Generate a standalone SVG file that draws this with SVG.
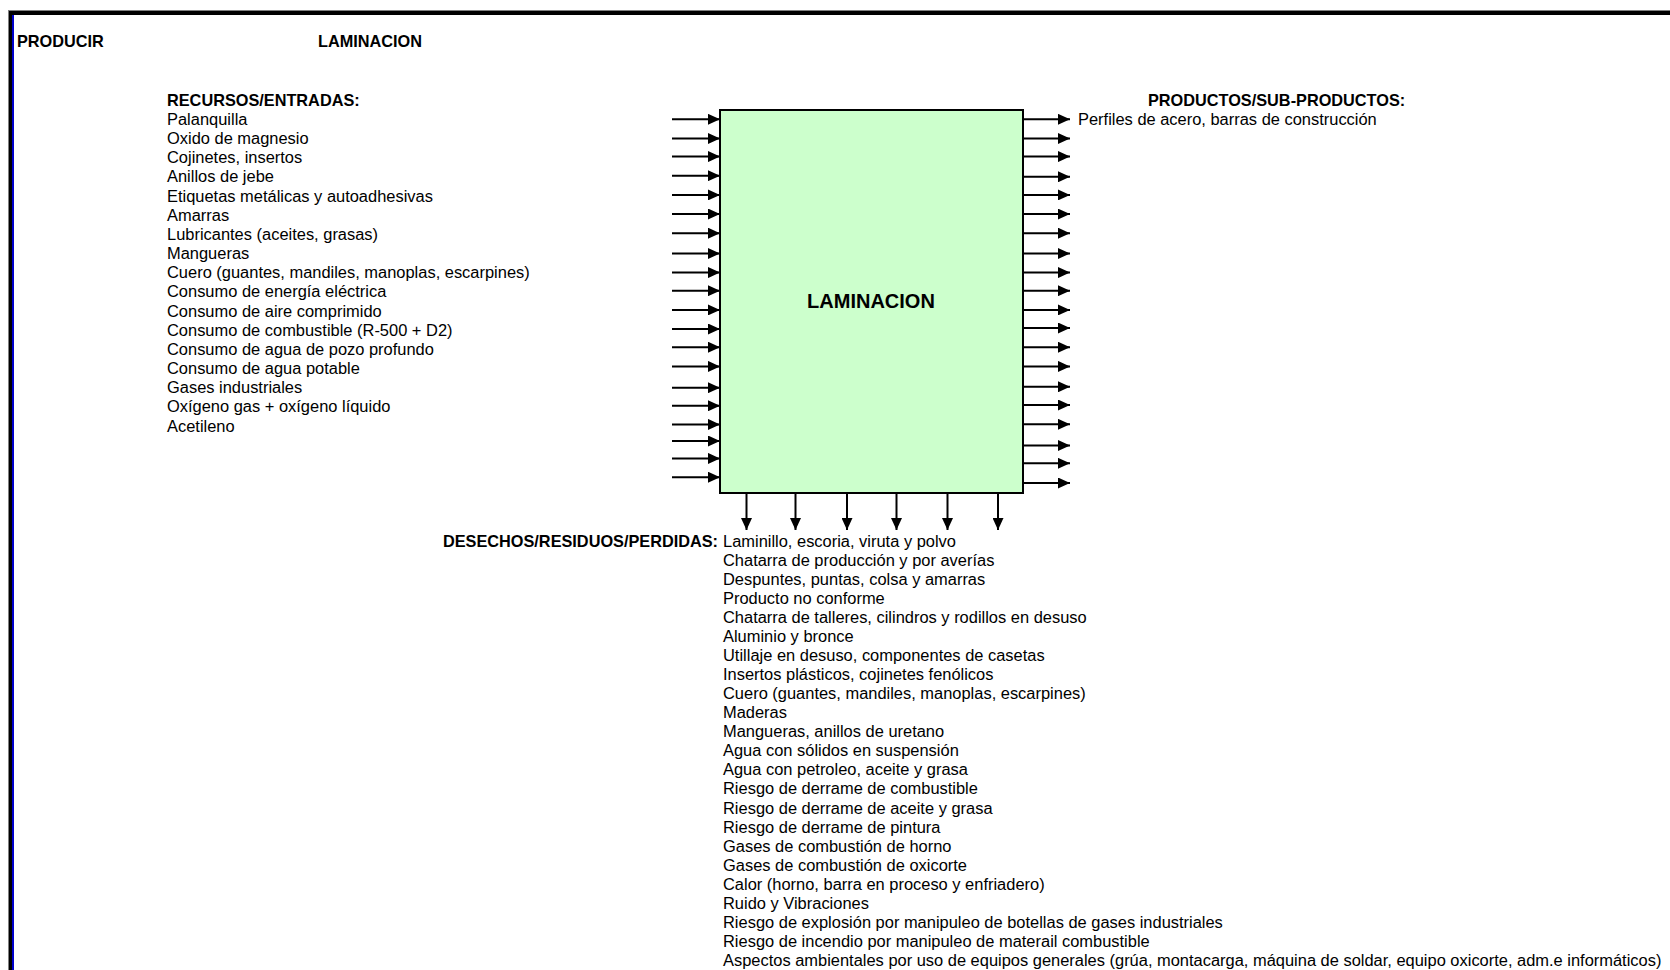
<svg xmlns="http://www.w3.org/2000/svg" width="1670" height="970" viewBox="0 0 1670 970">
<style>
  text { font-family: "Liberation Sans", Arial, sans-serif; font-size: 16.45px; fill: #000; }
  .b { font-weight: bold; font-size: 16.3px; }
  .arr { stroke: #000; stroke-width: 2; fill: none; }
</style>
<defs>
  <marker id="ah" markerUnits="userSpaceOnUse" markerWidth="12" markerHeight="11" refX="12" refY="5.5" orient="auto">
    <path d="M0,0 L12,5.5 L0,11 Z" fill="#000"/>
  </marker>
</defs>
<rect width="1670" height="970" fill="#fff"/>
<g id="frame">
  <rect x="8" y="10" width="1662" height="1" fill="#808080"/>
  <rect x="8" y="10" width="1" height="960" fill="#808080"/>
  <rect x="9" y="11" width="1661" height="4" fill="#000"/>
  <rect x="9" y="11" width="3" height="959" fill="#000"/>
  <rect x="12" y="15" width="2" height="955" fill="#0000cc"/>
</g>
<g id="header">
  <text class="b" x="17" y="47">PRODUCIR</text>
  <text class="b" x="318" y="47">LAMINACION</text>
</g>
<g id="inputs">
  <text class="b" x="167" y="105.6">RECURSOS/ENTRADAS:</text>
  <text x="167" y="124.8">Palanquilla</text>
  <text x="167" y="143.9">Oxido de magnesio</text>
  <text x="167" y="163.1">Cojinetes, insertos</text>
  <text x="167" y="182.3">Anillos de jebe</text>
  <text x="167" y="201.5">Etiquetas metálicas y autoadhesivas</text>
  <text x="167" y="220.6">Amarras</text>
  <text x="167" y="239.8">Lubricantes (aceites, grasas)</text>
  <text x="167" y="259.0">Mangueras</text>
  <text x="167" y="278.2">Cuero (guantes, mandiles, manoplas, escarpines)</text>
  <text x="167" y="297.3">Consumo de energía eléctrica</text>
  <text x="167" y="316.5">Consumo de aire comprimido</text>
  <text x="167" y="335.7">Consumo de combustible (R-500 + D2)</text>
  <text x="167" y="354.9">Consumo de agua de pozo profundo</text>
  <text x="167" y="374.0">Consumo de agua potable</text>
  <text x="167" y="393.2">Gases industriales</text>
  <text x="167" y="412.4">Oxígeno gas + oxígeno líquido</text>
  <text x="167" y="431.6">Acetileno</text>
</g>
<g id="process">
  <rect x="720" y="110" width="303" height="383" fill="#ccffcc" stroke="#000" stroke-width="2"/>
  <text class="b" x="871" y="308" text-anchor="middle" style="font-size:20px">LAMINACION</text>
</g>
<g id="outputs">
  <text class="b" x="1148" y="105.6">PRODUCTOS/SUB-PRODUCTOS:</text>
  <text x="1078" y="124.8">Perfiles de acero, barras de construcción</text>
</g>
<g id="connectors">
  <line class="arr" x1="672" y1="119.3" x2="720" y2="119.3" marker-end="url(#ah)"/>
  <line class="arr" x1="672" y1="138.5" x2="720" y2="138.5" marker-end="url(#ah)"/>
  <line class="arr" x1="672" y1="156.6" x2="720" y2="156.6" marker-end="url(#ah)"/>
  <line class="arr" x1="672" y1="175.7" x2="720" y2="175.7" marker-end="url(#ah)"/>
  <line class="arr" x1="672" y1="194.9" x2="720" y2="194.9" marker-end="url(#ah)"/>
  <line class="arr" x1="672" y1="214" x2="720" y2="214" marker-end="url(#ah)"/>
  <line class="arr" x1="672" y1="233.2" x2="720" y2="233.2" marker-end="url(#ah)"/>
  <line class="arr" x1="672" y1="253.5" x2="720" y2="253.5" marker-end="url(#ah)"/>
  <line class="arr" x1="672" y1="272.6" x2="720" y2="272.6" marker-end="url(#ah)"/>
  <line class="arr" x1="672" y1="290.7" x2="720" y2="290.7" marker-end="url(#ah)"/>
  <line class="arr" x1="672" y1="309.9" x2="720" y2="309.9" marker-end="url(#ah)"/>
  <line class="arr" x1="672" y1="329" x2="720" y2="329" marker-end="url(#ah)"/>
  <line class="arr" x1="672" y1="347.2" x2="720" y2="347.2" marker-end="url(#ah)"/>
  <line class="arr" x1="672" y1="366.4" x2="720" y2="366.4" marker-end="url(#ah)"/>
  <line class="arr" x1="672" y1="387.7" x2="720" y2="387.7" marker-end="url(#ah)"/>
  <line class="arr" x1="672" y1="405.8" x2="720" y2="405.8" marker-end="url(#ah)"/>
  <line class="arr" x1="672" y1="424.4" x2="720" y2="424.4" marker-end="url(#ah)"/>
  <line class="arr" x1="672" y1="441" x2="720" y2="441" marker-end="url(#ah)"/>
  <line class="arr" x1="672" y1="458.4" x2="720" y2="458.4" marker-end="url(#ah)"/>
  <line class="arr" x1="672" y1="477.2" x2="720" y2="477.2" marker-end="url(#ah)"/>

  <line class="arr" x1="1023" y1="119.3" x2="1070" y2="119.3" marker-end="url(#ah)"/>
  <line class="arr" x1="1023" y1="138.5" x2="1070" y2="138.5" marker-end="url(#ah)"/>
  <line class="arr" x1="1023" y1="156.6" x2="1070" y2="156.6" marker-end="url(#ah)"/>
  <line class="arr" x1="1023" y1="176.8" x2="1070" y2="176.8" marker-end="url(#ah)"/>
  <line class="arr" x1="1023" y1="194.9" x2="1070" y2="194.9" marker-end="url(#ah)"/>
  <line class="arr" x1="1023" y1="214.1" x2="1070" y2="214.1" marker-end="url(#ah)"/>
  <line class="arr" x1="1023" y1="233.2" x2="1070" y2="233.2" marker-end="url(#ah)"/>
  <line class="arr" x1="1023" y1="253.5" x2="1070" y2="253.5" marker-end="url(#ah)"/>
  <line class="arr" x1="1023" y1="272.6" x2="1070" y2="272.6" marker-end="url(#ah)"/>
  <line class="arr" x1="1023" y1="290.7" x2="1070" y2="290.7" marker-end="url(#ah)"/>
  <line class="arr" x1="1023" y1="309.9" x2="1070" y2="309.9" marker-end="url(#ah)"/>
  <line class="arr" x1="1023" y1="328" x2="1070" y2="328" marker-end="url(#ah)"/>
  <line class="arr" x1="1023" y1="347.2" x2="1070" y2="347.2" marker-end="url(#ah)"/>
  <line class="arr" x1="1023" y1="366.4" x2="1070" y2="366.4" marker-end="url(#ah)"/>
  <line class="arr" x1="1023" y1="386.8" x2="1070" y2="386.8" marker-end="url(#ah)"/>
  <line class="arr" x1="1023" y1="405" x2="1070" y2="405" marker-end="url(#ah)"/>
  <line class="arr" x1="1023" y1="424.3" x2="1070" y2="424.3" marker-end="url(#ah)"/>
  <line class="arr" x1="1023" y1="445.5" x2="1070" y2="445.5" marker-end="url(#ah)"/>
  <line class="arr" x1="1023" y1="463.3" x2="1070" y2="463.3" marker-end="url(#ah)"/>
  <line class="arr" x1="1023" y1="483" x2="1070" y2="483" marker-end="url(#ah)"/>

  <line class="arr" x1="746.5" y1="493" x2="746.5" y2="530" marker-end="url(#ah)"/>
  <line class="arr" x1="795.5" y1="493" x2="795.5" y2="530" marker-end="url(#ah)"/>
  <line class="arr" x1="847" y1="493" x2="847" y2="530" marker-end="url(#ah)"/>
  <line class="arr" x1="896.5" y1="493" x2="896.5" y2="530" marker-end="url(#ah)"/>
  <line class="arr" x1="947.5" y1="493" x2="947.5" y2="530" marker-end="url(#ah)"/>
  <line class="arr" x1="998" y1="493" x2="998" y2="530" marker-end="url(#ah)"/>
</g>
<g id="wastes">
  <text class="b" x="718" y="546.5" text-anchor="end">DESECHOS/RESIDUOS/PERDIDAS:</text>
  <text x="723" y="546.5">Laminillo, escoria, viruta y polvo</text>
  <text x="723" y="565.6">Chatarra de producción y por averías</text>
  <text x="723" y="584.6">Despuntes, puntas, colsa y amarras</text>
  <text x="723" y="603.7">Producto no conforme</text>
  <text x="723" y="622.8">Chatarra de talleres, cilindros y rodillos en desuso</text>
  <text x="723" y="641.9">Aluminio y bronce</text>
  <text x="723" y="660.9">Utillaje en desuso, componentes de casetas</text>
  <text x="723" y="680.0">Insertos plásticos, cojinetes fenólicos</text>
  <text x="723" y="699.1">Cuero (guantes, mandiles, manoplas, escarpines)</text>
  <text x="723" y="718.1">Maderas</text>
  <text x="723" y="737.2">Mangueras, anillos de uretano</text>
  <text x="723" y="756.3">Agua con sólidos en suspensión</text>
  <text x="723" y="775.3">Agua con petroleo, aceite y grasa</text>
  <text x="723" y="794.4">Riesgo de derrame de combustible</text>
  <text x="723" y="813.5">Riesgo de derrame de aceite y grasa</text>
  <text x="723" y="832.6">Riesgo de derrame de pintura</text>
  <text x="723" y="851.6">Gases de combustión de horno</text>
  <text x="723" y="870.7">Gases de combustión de oxicorte</text>
  <text x="723" y="889.8">Calor (horno, barra en proceso y enfriadero)</text>
  <text x="723" y="908.8">Ruido y Vibraciones</text>
  <text x="723" y="927.9">Riesgo de explosión por manipuleo de botellas de gases industriales</text>
  <text x="723" y="947.0">Riesgo de incendio por manipuleo de materail combustible</text>
  <text x="723" y="966.0">Aspectos ambientales por uso de equipos generales (grúa, montacarga, máquina de soldar, equipo oxicorte, adm.e informáticos)</text>
</g>
</svg>
